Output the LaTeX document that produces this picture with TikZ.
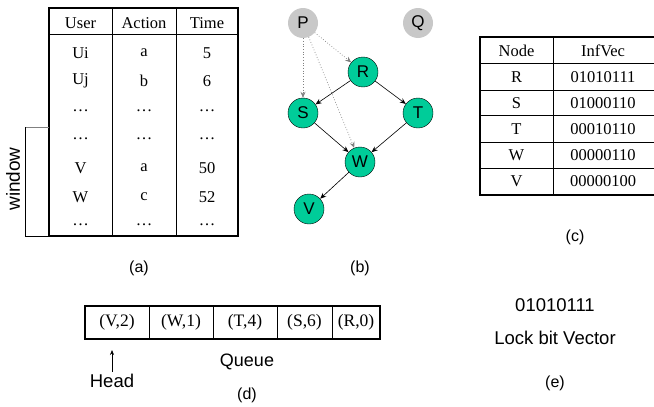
\documentclass[tikz,border=0pt]{standalone}
\usepackage{fontspec}
\setmainfont{Liberation Serif}
\setsansfont{Liberation Sans}
\usetikzlibrary{arrows.meta}
\definecolor{nodegreen}{HTML}{00CC99}
\definecolor{pgray}{HTML}{C8C8C8}
\begin{document}
\begin{tikzpicture}[x=1pt,y=-1pt,
  cell/.style={font=\fontsize{16.5}{18}\selectfont,inner sep=0pt},
  qcell/.style={font=\fontsize{17.5}{19}\selectfont,inner sep=0pt},
  lab/.style={font=\sffamily\fontsize{16}{18}\selectfont,inner sep=0pt},
  big/.style={font=\sffamily\fontsize{18.5}{21}\selectfont,inner sep=0pt},
  gnode/.style={circle,draw=black,fill=nodegreen,minimum size=30pt,inner sep=0pt,font=\sffamily\fontsize{17}{19}\selectfont},
  hnode/.style={circle,fill=pgray,minimum size=30pt,inner sep=0pt,font=\sffamily\fontsize{17}{19}\selectfont},
  edge/.style={-{Stealth[length=6pt,width=5pt]},black,line width=0.6pt},
  dedge/.style={-{Stealth[length=6pt,width=5pt]},gray,dotted,line width=0.7pt},
  thick box/.style={line width=1.5pt},
  thin line/.style={line width=0.6pt}]
\useasboundingbox (0,0) rectangle (654,407);
% ---------- (a) table ----------
\draw[thick box] (49,8) rectangle (238,236);
\draw[thin line] (49,34) -- (238,34);
\draw[thin line] (112,8) -- (112,236);
\draw[thin line] (176,8) -- (176,236);
\node[cell] (u0) at (80.5,23) {User};
\node[cell] (a0) at (144,23) {Action};
\node[cell] (t0) at (207,23) {Time};
\node[cell] (u1) at (80.5,53) {Ui};  \node[cell] (a1) at (144,53) {a}; \node[cell] (t1) at (207,53) {5};
\node[cell] (u2) at (80.5,81) {Uj};  \node[cell] (a2) at (144,81) {b}; \node[cell] (t2) at (207,81) {6};
\node[cell] (u3) at (80.5,111) {\dots}; \node[cell] (a3) at (144,111) {\dots}; \node[cell] (t3) at (207,111) {\dots};
\node[cell] (u4) at (80.5,139) {\dots}; \node[cell] (a4) at (144,139) {\dots}; \node[cell] (t4) at (207,139) {\dots};
\node[cell] (u5) at (80.5,168) {V};  \node[cell] (a5) at (144,168) {a}; \node[cell] (t5) at (207,168) {50};
\node[cell] (u6) at (80.5,197) {W};  \node[cell] (a6) at (144,197) {c}; \node[cell] (t6) at (207,197) {52};
\node[cell] (u7) at (80.5,225) {\dots}; \node[cell] (a7) at (144,225) {\dots}; \node[cell] (t7) at (207,225) {\dots};
% window bracket
\draw[gray,line width=1pt] (49,127) -- (25,127);
\draw[black,line width=0.6pt] (25,127) -- (25,236) -- (49,236);
\node[big,rotate=90,font=\sffamily\fontsize{19}{21}\selectfont] (win) at (13,179) {window};
\node[lab] (la) at (139,268) {(a)};
% ---------- (b) graph ----------
\node[hnode] (P) at (303,23) {P};
\node[hnode] (Q) at (418,23) {Q};
\node[gnode] (R) at (363,72) {R};
\node[gnode] (S) at (303,113) {S};
\node[gnode] (T) at (418,113) {T};
\node[gnode] (W) at (360,162) {W};
\node[gnode] (V) at (309,209) {V};
\draw[dedge] (P) -- (S);
\draw[dedge] (P) -- (R);
\draw[dedge] (P) -- (W);
\draw[edge] (R) -- (S);
\draw[edge] (R) -- (T);
\draw[edge] (S) -- (W);
\draw[edge] (T) -- (W);
\draw[edge] (W) -- (V);
\node[lab] (lb) at (360,268) {(b)};
% ---------- (c) table ----------
\draw[thick box] (660,37) -- (480,37) -- (480,195) -- (660,195);
\draw[thin line] (480,63) -- (660,63);
\foreach \yy in {90,115,142,168} \draw[thin line] (480,\yy) -- (660,\yy);
\draw[thin line] (553,37) -- (553,195);
\node[cell] (cn) at (516.5,51) {Node};
\node[cell] (ci) at (603,51) {InfVec};
\node[cell] (c1) at (516.5,77) {R}; \node[cell] (d1) at (603,77) {01010111};
\node[cell] (c2) at (516.5,103) {S}; \node[cell] (d2) at (603,103) {01000110};
\node[cell] (c3) at (516.5,129) {T}; \node[cell] (d3) at (603,129) {00010110};
\node[cell] (c4) at (516.5,155) {W}; \node[cell] (d4) at (603,155) {00000110};
\node[cell] (c5) at (516.5,181) {V}; \node[cell] (d5) at (603,181) {00000100};
\node[lab] (lc) at (575,237) {(c)};
% ---------- (d) queue ----------
\draw[thick box] (85,306) rectangle (380,339);
\foreach \xx in {149,213,277,332} \draw[thin line] (\xx,306) -- (\xx,339);
\node[qcell] (q1) at (117,322.5) {(V,2)};
\node[qcell] (q2) at (181,322.5) {(W,1)};
\node[qcell] (q3) at (245,322.5) {(T,4)};
\node[qcell] (q4) at (304.5,322.5) {(S,6)};
\node[qcell] (q5) at (356,322.5) {(R,0)};
\node[big,font=\sffamily\fontsize{18.5}{20}\selectfont] (head) at (112,381) {Head};
\coordinate (harrow) at (112,350);
\draw[-{Stealth[length=5pt,width=4pt]},line width=0.6pt] ([yshift=2pt]head.north) -- (harrow);
\node[big,font=\sffamily\fontsize{18}{20}\selectfont] (queue) at (247,362) {Queue};
\node[lab] (ld) at (247,395) {(d)};
% ---------- (e) ----------
\node[big] (bits) at (555,305) {01010111};
\node[big] (lock) at (555,338) {Lock bit Vector};
\node[lab] (le) at (555,383) {(e)};
\end{tikzpicture}
\end{document}
